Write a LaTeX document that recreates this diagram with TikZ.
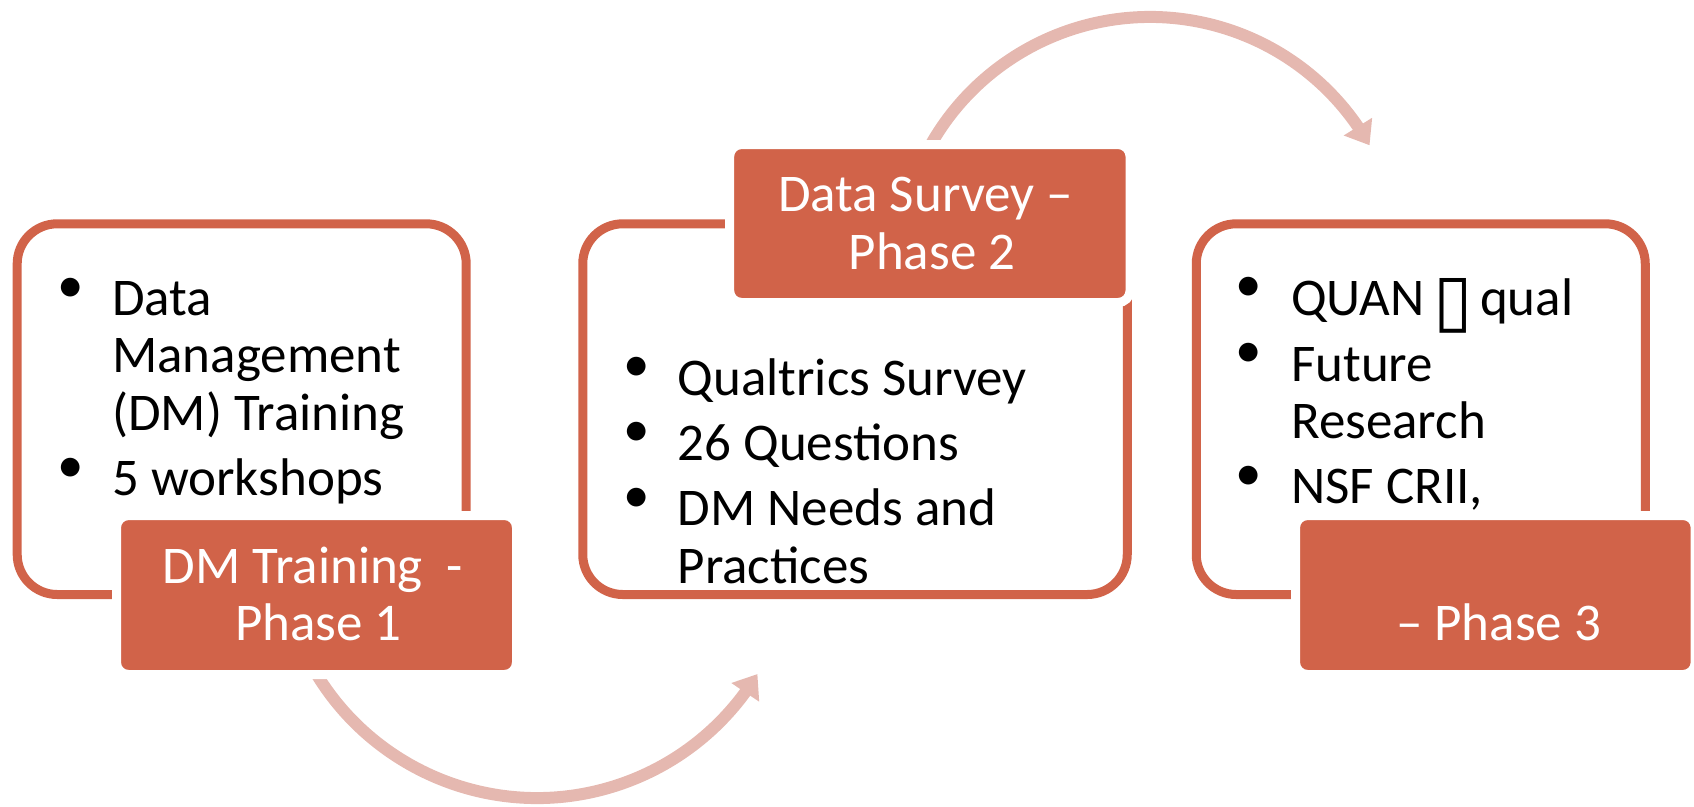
\documentclass[tikz,border=0pt]{standalone}
\usepackage{fontspec}
\setmainfont{Carlito}
\newfontfamily\symfont{DejaVu Sans}
\usetikzlibrary{arrows.meta,bending}
\definecolor{accent}{HTML}{D16349}
\definecolor{arrowpink}{HTML}{E5B8B0}
\newcommand{\bodyfont}{\fontsize{53}{57.5}\selectfont}
\newcommand{\tofu}{\kern-3pt\raisebox{-9pt}{\resizebox{!}{46pt}{\symfont ▯}}\kern-5pt}
\begin{document}
\begin{tikzpicture}[x=1pt,y=-1pt,
  frame/.style={draw=accent, line width=9pt, rounded corners=40pt, inner sep=0pt, outer sep=0pt},
  tag/.style={draw=white, fill=accent, line width=9pt, rounded corners=12pt, inner sep=0pt, outer sep=0pt},
  body/.style={anchor=base west, inner sep=0pt, font=\bodyfont, text=black},
  lab/.style={anchor=base, inner sep=0pt, font=\bodyfont, text=white},
  bul/.style={anchor=center, inner sep=0pt, font=\bodyfont, text=black},
  flow/.style={draw=arrowpink, line width=12pt, -{Triangle[width=32pt,length=22pt]}}]
\useasboundingbox (0,0) rectangle (1694,806);

% outlined boxes
\node[frame, minimum width=449pt, minimum height=370.7pt] (box1) at (241.7,409.15) {};
\node[frame, minimum width=544.5pt, minimum height=370.7pt] (box2) at (855,409.15) {};
\node[frame, minimum width=449pt, minimum height=370.7pt] (box3) at (1420.75,409.15) {};

% curved arrows
\coordinate (c1) at (537,540);
\coordinate (c2) at (1150,269);
\coordinate (a1s) at ([shift={(160:258)}]c1);
\coordinate (a2s) at ([shift={(200:252)}]c2);
\draw[flow] (a1s) arc[start angle=160, end angle=31.3, radius=258];
\draw[flow] (a2s) arc[start angle=200, end angle=330.6, radius=252];

% filled labels
\node[tag, minimum width=400pt, minimum height=159pt] (tag1) at (316.5,595) {};
\node[tag, minimum width=400.5pt, minimum height=158pt] (tag2) at (929.85,223.5) {};
\node[tag, minimum width=399.7pt, minimum height=159pt] (tag3) at (1495.35,595) {};

% label texts
\node[lab] (l1a) at (313,583) {DM Training\ \ -};
\node[lab] (l1b) at (318.5,640) {Phase 1};
\node[lab] (l2a) at (925.5,211) {Data Survey –};
\node[lab] (l2b) at (932,269) {Phase 2};
\node[lab] (l3a) at (1498.5,640) {– Phase 3};

% box 1 text
\node[bul] (b1a) at (71,290) {•};
\node[bul] (b1b) at (71,470) {•};
\node[body] (t1a) at (112,315) {Data};
\node[body] (t1b) at (112,372.7) {Management};
\node[body] (t1c) at (112,430) {(DM) Training};
\node[body] (t1d) at (112,495) {5 workshops};

% box 2 text
\node[bul] (b2a) at (636.5,369) {•};
\node[bul] (b2b) at (636.5,434) {•};
\node[bul] (b2c) at (636.5,500) {•};
\node[body] (t2a) at (677.5,395) {Qualtrics Survey};
\node[body] (t2b) at (677.5,460) {26 Questions};
\node[body] (t2c) at (677.5,525.7) {DM Needs and};
\node[body] (t2d) at (677.5,583) {Practices};

% box 3 text
\node[bul] (b3a) at (1249,289) {•};
\node[bul] (b3b) at (1249,355) {•};
\node[bul] (b3c) at (1249,478) {•};
\node[body] (t3a) at (1291,315) {QUAN \tofu{} qual};
\node[body] (t3b) at (1291,381) {Future};
\node[body] (t3c) at (1291,438) {Research};
\node[body] (t3d) at (1291,503) {NSF CRII,};
\end{tikzpicture}
\end{document}
